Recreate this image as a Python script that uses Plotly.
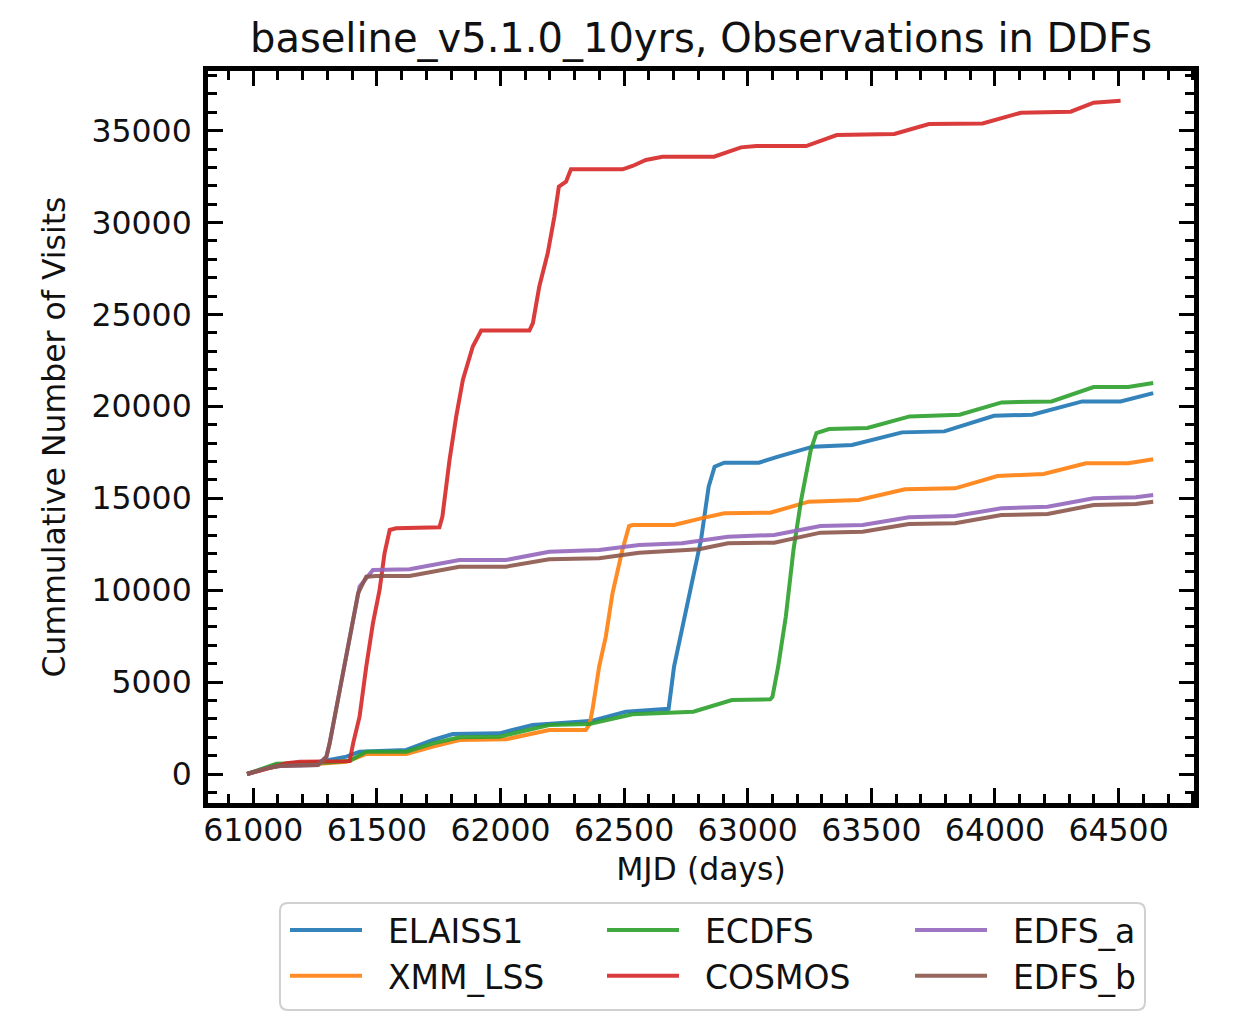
import plotly.graph_objects as go

# ---- data ----
elaiss1_x = [60975, 61094, 61269, 61377, 61430, 61619, 61727, 61807, 61996, 62130, 62318, 62372, 62507, 62668, 62680,
             62702, 62765, 62811, 62842, 62866, 62905, 63045, 63123, 63263, 63422, 63624, 63795, 63996, 64151, 64353, 64508, 64640]
elaiss1_y = [0, 490, 671, 943, 1215, 1306, 1850, 2176, 2213, 2666, 2848, 2902, 3390, 3519, 3550,
             5838, 9831, 12731, 15631, 16719, 16937, 16937, 17264, 17808, 17900, 18587, 18641, 19493, 19547, 20272, 20272, 20725]

xmm_x = [60975, 61108, 61255, 61377, 61457, 61619, 61727, 61834, 62022, 62197, 62345, 62360, 62372, 62399, 62426, 62453,
         62493, 62520, 62534, 62702, 62811, 62905, 63091, 63247, 63449, 63636, 63839, 64010, 64197, 64368, 64539, 64640]
xmm_y = [0, 490, 544, 671, 1088, 1088, 1487, 1850, 1886, 2394, 2394, 2700, 3482, 5838, 7472, 9831,
         12187, 13493, 13547, 13547, 13910, 14182, 14218, 14815, 14907, 15489, 15543, 16213, 16322, 16903, 16903, 17122]

ecdfs_x = [60975, 61094, 61188, 61296, 61390, 61457, 61619, 61727, 61834, 61996, 62197, 62359, 62534, 62668, 62780, 62936,
           63091, 63100, 63123, 63154, 63185, 63216, 63255, 63278, 63329, 63484, 63655, 63857, 64027, 64229, 64399, 64539, 64640]
ecdfs_y = [0, 560, 600, 620, 725, 1215, 1215, 1668, 1995, 2031, 2666, 2720, 3250, 3350, 3390, 4026,
           4062, 4200, 5838, 8558, 12187, 14907, 17628, 18553, 18768, 18822, 19457, 19547, 20217, 20272, 21051, 21051, 21268]

cosmos_x = [60975, 61054, 61135, 61188, 61269, 61390, 61404, 61430, 61457, 61484, 61511, 61531, 61552, 61578, 61753, 61765,
            61794, 61821, 61848, 61861, 61888, 61922, 62117, 62131, 62157, 62191, 62218, 62236, 62265, 62285, 62494, 62534,
            62588, 62655, 62864, 62973, 63035, 63236, 63360, 63593, 63733, 63950, 64105, 64306, 64399, 64508]
cosmos_y = [0, 308, 580, 671, 690, 700, 1668, 3119, 5838, 8197, 10011, 12005, 13275, 13366, 13420, 14000,
            17101, 19457, 21449, 21993, 23261, 24130, 24130, 24529, 26522, 28333, 30326, 31957, 32228, 32900, 32900, 33080,
            33406, 33587, 33587, 34094, 34167, 34167, 34764, 34819, 35362, 35398, 35978, 36032, 36521, 36630]

edfsa_x = [60975, 61054, 61108, 61262, 61296, 61309, 61350, 61390, 61424, 61430, 61484, 61632, 61834, 62022, 62197, 62399,
           62561, 62734, 62920, 63107, 63294, 63465, 63652, 63839, 64026, 64213, 64399, 64570, 64640]
edfsa_y = [0, 308, 435, 490, 943, 1668, 4570, 7472, 9831, 10192, 11099, 11136, 11643, 11643, 12095, 12187,
           12459, 12550, 12913, 13003, 13493, 13547, 13964, 14037, 14454, 14545, 15000, 15054, 15180]

edfsb_x = [60975, 61054, 61108, 61262, 61296, 61309, 61350, 61390, 61424, 61457, 61498, 61632, 61834, 62022, 62197, 62399,
           62561, 62803, 62920, 63107, 63294, 63465, 63652, 63839, 64026, 64213, 64399, 64570, 64640]
edfsb_y = [0, 308, 435, 490, 943, 1668, 4570, 7472, 9831, 10735, 10772, 10772, 11280, 11280, 11681, 11734,
           12041, 12224, 12550, 12586, 13130, 13184, 13602, 13638, 14091, 14146, 14635, 14690, 14815]

# name, x, y, colour, legend column
series = [
    ("ELAISS1", elaiss1_x, elaiss1_y, "#1f77b4", "legend"),
    ("XMM_LSS", xmm_x, xmm_y, "#ff7f0e", "legend"),
    ("ECDFS", ecdfs_x, ecdfs_y, "#2ca02c", "legend2"),
    ("COSMOS", cosmos_x, cosmos_y, "#d62728", "legend2"),
    ("EDFS_a", edfsa_x, edfsa_y, "#9467bd", "legend3"),
    ("EDFS_b", edfsb_x, edfsb_y, "#8c564b", "legend3"),
]

FONT = "DejaVu Sans"
TXT = "#111111"
NBSP = "\u00a0\u00a0"

fig = go.Figure()
for name, xs, ys, col, leg in series:
    fig.add_trace(go.Scatter(x=xs, y=ys, mode="lines", name=NBSP + name,
                             line=dict(color=col, width=4), opacity=0.9,
                             legend=leg))

axis_common = dict(
    showline=True, linecolor="black", linewidth=5, mirror="allticks",
    ticks="inside", ticklen=15, tickwidth=3, tickcolor="black",
    showgrid=False, zeroline=False, tickformat="d",
    tickfont=dict(family=FONT, size=31.5, color=TXT),
)

fig.update_xaxes(
    range=[60817, 64805], dtick=500, tick0=0, ticklabelstandoff=-5,
    minor=dict(ticks="inside", ticklen=9, tickwidth=2.5, tickcolor="black", dtick=100, tick0=0),
    title=dict(text="MJD (days)", font=dict(family=FONT, size=31.5, color=TXT), standoff=13),
    **axis_common,
)
fig.update_yaxes(
    range=[-1578, 38248], dtick=5000, tick0=0, ticklabelstandoff=5,
    minor=dict(ticks="inside", ticklen=9, tickwidth=2.5, tickcolor="black", dtick=1000, tick0=0),
    title=dict(text="Cummulative Number of Visits", font=dict(family=FONT, size=31.5, color=TXT), standoff=18),
    **axis_common,
)

leg_common = dict(orientation="v", yanchor="top", xanchor="left", y=-0.1352,
                  itemwidth=72, borderwidth=0, bgcolor="rgba(0,0,0,0)",
                  font=dict(family=FONT, size=33, color=TXT))

# rounded legend frame (paper coordinates)
x0, x1, yb, yt = 0.0730, 0.9503, -0.2828, -0.1366
rx, ry = 0.0081, 0.0109
frame_path = (f"M{x0+rx},{yt} L{x1-rx},{yt} Q{x1},{yt} {x1},{yt-ry} L{x1},{yb+ry} "
              f"Q{x1},{yb} {x1-rx},{yb} L{x0+rx},{yb} Q{x0},{yb} {x0},{yb+ry} "
              f"L{x0},{yt-ry} Q{x0},{yt} {x0+rx},{yt} Z")

fig.update_layout(
    width=1230, height=1024,
    margin=dict(l=200, r=44, t=63, b=229),
    paper_bgcolor="white", plot_bgcolor="white",
    title=dict(text="baseline_v5.1.0_10yrs, Observations in DDFs",
               font=dict(family=FONT, size=40, color=TXT),
               x=0.5, xref="paper", xanchor="center",
               y=1 - 30 / 1024, yref="container", yanchor="middle"),
    legend=dict(x=0.0781, **leg_common),
    legend2=dict(x=0.3996, **leg_common),
    legend3=dict(x=0.7120, **leg_common),
    shapes=[dict(type="path", path=frame_path, xref="paper", yref="paper",
                 line=dict(color="#d0d0d0", width=2), fillcolor="rgba(0,0,0,0)", layer="below")],
    showlegend=True,
)

fig.write_html("out.html")
